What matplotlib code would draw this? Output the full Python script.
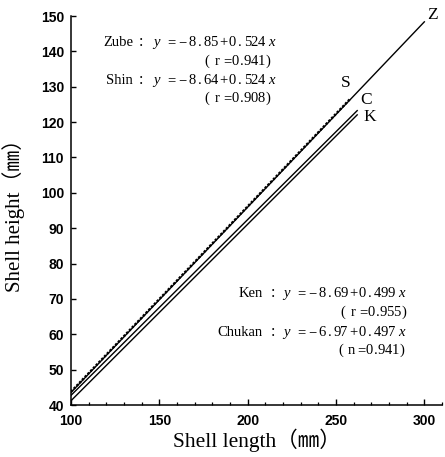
import matplotlib
matplotlib.use("Agg")
import matplotlib.pyplot as plt
import numpy as np
from matplotlib.ticker import MultipleLocator

# regression lines
names = ["Zube", "Shin", "Ken", "Chukan"]
intercepts = [-8.85, -8.64, -8.69, -6.97]
slopes = [0.524, 0.524, 0.499, 0.497]
r_values = ["0.941", "0.908", "0.955", "0.941"]
r_symbols = ["r", "r", "r", "n"]
x_start = [100, 100, 100, 100]
x_end = [300, 258, 262, 262]
short = ["Z", "S", "K", "C"]
label_x = [301.5, 253, 265.5, 263.5]
label_y = [150.3, 131, 121.3, 126.3]

xticks = [100, 150, 200, 250, 300]
yticks = [40, 50, 60, 70, 80, 90, 100, 110, 120, 130, 140, 150]

W, H = 445, 457
fig = plt.figure(figsize=(W / 100, H / 100), dpi=100)
ax = fig.add_axes([71 / W, 1 - 405 / H, 371 / W, 389 / H])

for i in range(4):
    xs = np.array([x_start[i], x_end[i]])
    ys = intercepts[i] + slopes[i] * xs
    if names[i] == "Shin":
        ax.plot(xs, ys, color='black', lw=1.7, ls=(0, (1.0, 0.7)), zorder=3)
    else:
        ax.plot(xs, ys, color='black', lw=1.0, zorder=2)
    ax.text(label_x[i], label_y[i], short[i], fontsize=12.5, family='Liberation Serif',
            ha='left', va='center')

ax.set_xlim(100, 310)
ax.set_ylim(40, 150)
ax.set_xticks(xticks)
ax.set_yticks(yticks)
ax.xaxis.set_minor_locator(MultipleLocator(10))
ax.spines['top'].set_visible(False)
ax.spines['right'].set_visible(False)
for s in ['left', 'bottom']:
    ax.spines[s].set_linewidth(1.1)
ax.tick_params(axis='y', which='major', direction='in', length=3.5, width=1.0,
               labelsize=10, pad=5)
ax.tick_params(axis='x', which='major', direction='in', length=4.5, width=1.0,
               labelsize=10, pad=6.5)
ax.tick_params(axis='x', which='minor', direction='in', length=2.5, width=0.9)
for lab in ax.get_xticklabels() + ax.get_yticklabels():
    lab.set_fontweight('bold')
    lab.set_family('Liberation Sans')

fam = ['Liberation Serif', 'Noto Sans CJK JP']
ax.set_xlabel("Shell length（㎜）", fontsize=15.5, family=fam)
ax.set_ylabel("Shell height（㎜）", fontsize=15, family=fam)
ax.xaxis.set_label_coords(0.5, -0.06)
ax.yaxis.set_label_coords(-0.125, 0.5)

def px(x, y):
    return x / W, 1 - y / H

FS = 10.5
SF = 'Liberation Serif'

# character cell widths (pixels) for the typeset equations
EQ_W = {'=': 12.0, '−': 11.5, '+': 11.5, '.': 8.5}
R_W = {'(': 10.0, 'r': 10.0, 'n': 10.0, '=': 10.0, '.': 4.5, ')': 6.0}
SHIFT = {'.': 0.3}

def draw_run(x0, by, s, widths, dig_w):
    x = x0
    for ch in s:
        w = widths.get(ch, dig_w)
        fig.text(*px(x + w / 2 + SHIFT.get(ch, 0), by), ch, fontsize=FS, family=SF,
                 ha='center', va='baseline')
        x += w
    return x

# layout of equation blocks (pixel positions):
# name right edge, colon centre, y left, baseline, r-row left, r-row baseline
layout = [
    (133, 141.0, 153, 46, 202, 65),
    (133, 141.0, 153, 84, 202, 102),
    (263, 272.5, 283, 297, 338, 316),
    (263, 272.5, 283, 336, 336, 354),
]
for i in range(4):
    nx, cx, yx, by, rx, ry = layout[i]
    fig.text(*px(nx, by), names[i], fontsize=FS, family=SF, ha='right', va='baseline')
    fig.text(*px(cx, by), ":", fontsize=FS + 1, family=SF, ha='center', va='baseline')
    fig.text(*px(yx, by), "y", fontsize=FS, family=SF, style='italic',
             ha='left', va='baseline')
    body = "=−%.2f+%.3f" % (abs(intercepts[i]), slopes[i])
    xe = draw_run(yx + 12, by, body, EQ_W, 6.8)
    fig.text(*px(xe + 3.5, by), "x", fontsize=FS, family=SF, style='italic',
             ha='left', va='baseline')
    rtxt = "(" + r_symbols[i] + "=" + r_values[i] + ")"
    draw_run(rx, ry, rtxt, R_W, 7.0)

fig.savefig("out.png", dpi=100)
